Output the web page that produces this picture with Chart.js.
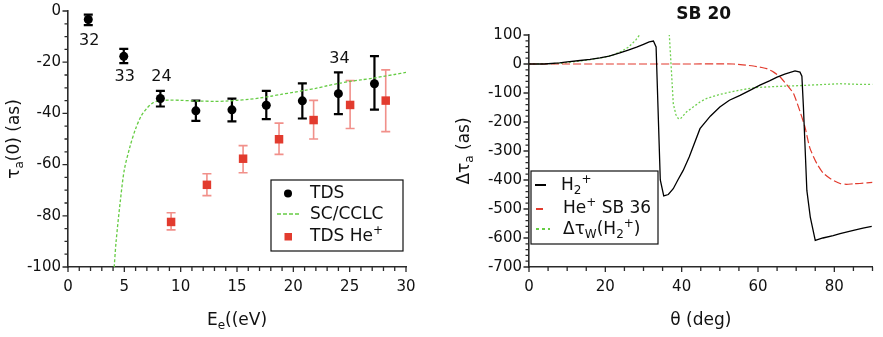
<!DOCTYPE html>
<html>
<head>
<meta charset="utf-8">
<script src="https://cdn.jsdelivr.net/npm/chart.js@4.4.0/dist/chart.umd.min.js"></script>
<style>
  body { margin: 0; background: #fff; width: 883px; height: 337px; overflow: hidden; position: relative; }
  #leftBox { position: absolute; left: 0; top: 0; width: 440px; height: 337px; }
  #rightBox { position: absolute; left: 440px; top: 0; width: 443px; height: 337px; }
</style>
</head>
<body>
<div id="leftBox"><canvas id="leftChart"></canvas></div>
<div id="rightBox"><canvas id="rightChart"></canvas></div>
<script>
// ---- left panel: delays vs electron energy ----
const tdsEnergy = [1.8, 4.95, 8.2, 11.35, 14.55, 17.6, 20.8, 24.0, 27.2];
const tdsDelay  = [-3.3, -17.7, -34.2, -39.0, -38.6, -36.8, -35.1, -32.3, -28.4];
const tdsUpper  = [-1.4, -14.8, -31.2, -35.0, -34.2, -31.2, -28.3, -24.0, -17.6];
const tdsLower  = [-5.5, -20.4, -37.3, -42.9, -43.1, -42.2, -42.0, -40.3, -38.5];
const tdsTags   = ['32', '33', '24', '', '', '', '', '34', ''];
const tagBelow  = [true, true, false, false, false, false, false, false, false];

const heEnergy = [9.15, 12.33, 15.54, 18.73, 21.8, 25.04, 28.2];
const heDelay  = [-82.4, -67.9, -57.7, -50.1, -42.6, -36.7, -35.0];
const heUpper  = [-78.8, -63.6, -52.6, -43.8, -34.9, -27.2, -23.0];
const heLower  = [-85.5, -72.1, -63.2, -56.0, -50.0, -45.9, -47.1];

const ccEnergy = [4.1, 4.27, 4.65, 5.0, 5.5, 6.0, 6.5, 7.0, 7.5, 8.0, 9, 10, 11, 12, 13, 14, 15, 16, 17, 18, 19, 20, 21, 22, 23, 24, 25, 26, 27, 28, 29, 30];
const ccDelay  = [-100, -90, -74, -62, -53, -46, -41, -38, -36, -35.2, -34.8, -34.9, -35.1, -35.2, -35.3, -35.2, -34.9, -34.5, -34.0, -33.3, -32.5, -31.8, -31.0, -30.2, -29.2, -28.3, -27.5, -26.9, -26.3, -25.5, -24.8, -24.0];

// ---- right panel: SB 20 vs angle ----
const h2Angle = [0, 4, 8, 10, 13.4, 16, 18.6, 21, 23.8, 26, 28.2, 30, 31.5, 32.6, 33.3, 33.8, 34.4, 35.3, 36.5, 37.8, 39, 40.4, 42, 44.8, 47.5, 50, 52.5, 55.3, 58, 60.5, 63, 65, 67, 69.7, 71, 71.5, 71.9, 72.8, 73.7, 75, 77, 79.7, 81.5, 85, 87.5, 89.8];
const h2Delay = [0, 0, 4, 7, 12, 16, 21, 27, 38, 48, 58, 68, 76, 79, 59, -150, -400, -455, -450, -430, -400, -367, -320, -223, -180, -148, -125, -108, -90, -73, -58, -45, -35, -24, -28, -42, -148, -436, -528, -608, -600, -592, -585, -574, -566, -560];

const heSbAngle = [0, 20, 40, 53.5, 56, 58.8, 61, 62.3, 64.1, 65.8, 68, 69.3, 70.6, 72.3, 73.6, 75.4, 77, 78.9, 81.5, 83.2, 85, 86.7, 88.5, 90];
const heSbDelay = [0, 0, 0, 0, -3, -7, -12, -16, -28, -45, -79, -102, -148, -217, -290, -343, -375, -395, -412, -415, -413, -412, -410, -408];

const wignerAngle = [0, 8, 12, 16, 20, 22, 24.3, 26, 27, 28, 28.9, 29.5, 33, 36.5, 36.8, 37.3, 37.8, 38.5, 39.1, 39.6, 41.3, 44.8, 46.5, 50, 52.7, 56, 59.5, 65.8, 70, 75, 81.5, 86, 90];
const wignerDelay = [0, 2, 8, 15, 24, 31, 44, 58, 70, 83, 99, 115, null, 130, 93, -20, -137, -175, -188, -190, -165, -131, -119, -105, -97, -88, -81, -77, -75, -72, -68, -70, -70];

const FONT = '"DejaVu Sans", Verdana, sans-serif';
const AXIS = '#2a2a2a';

function pts(xs, ys) { return xs.map((x, i) => ({ x: x, y: ys[i] })); }

// rich text: parts = [[text, 'n' | 'sub' | 'sup'], ...]
function richWidth(ctx, parts, size) {
  let w = 0;
  parts.forEach(p => {
    ctx.font = (p[1] === 'n' ? size : Math.round(size * 0.7)) + 'px ' + FONT;
    w += ctx.measureText(p[0]).width;
  });
  return w;
}
function drawRich(ctx, parts, x, y, size, align) {
  const w = richWidth(ctx, parts, size);
  let cx = align === 'center' ? x - w / 2 : x;
  ctx.textBaseline = 'middle';
  ctx.textAlign = 'left';
  ctx.fillStyle = '#111';
  parts.forEach(p => {
    const small = p[1] !== 'n';
    ctx.font = (small ? Math.round(size * 0.7) : size) + 'px ' + FONT;
    const dy = p[1] === 'sub' ? size * 0.3 : p[1] === 'sup' ? -size * 0.35 : 0;
    ctx.fillText(p[0], cx, y + dy);
    cx += ctx.measureText(p[0]).width;
  });
}

// minor + major tick marks drawn along the axes
function drawTicks(chart, xStep, yStep, xMajor, yMajor) {
  const { ctx, chartArea: a, scales: { x, y } } = chart;
  ctx.save();
  ctx.strokeStyle = AXIS;
  ctx.lineWidth = 1.3;
  ctx.beginPath();
  for (let v = x.min; v <= x.max + 1e-6; v += xStep) {
    const px = x.getPixelForValue(v);
    const len = Math.abs(v / xMajor - Math.round(v / xMajor)) < 1e-6 ? 5 : 4;
    ctx.moveTo(px, a.bottom); ctx.lineTo(px, a.bottom + len);
  }
  for (let v = y.min; v <= y.max + 1e-6; v += yStep) {
    const py = y.getPixelForValue(v);
    const len = Math.abs(v / yMajor - Math.round(v / yMajor)) < 1e-6 ? 5.5 : 3.5;
    ctx.moveTo(a.left, py); ctx.lineTo(a.left - len, py);
  }
  ctx.stroke();
  ctx.restore();
}

const leftDecor = {
  id: 'leftDecor',
  beforeDatasetsDraw(chart) {
    const { ctx, scales: { x, y } } = chart;
    ctx.save();
    // He+ error bars (light red)
    ctx.strokeStyle = 'rgba(232, 70, 60, 0.6)';
    ctx.lineWidth = 1.6;
    heEnergy.forEach((e, i) => {
      const px = x.getPixelForValue(e);
      const t = y.getPixelForValue(heUpper[i]), b = y.getPixelForValue(heLower[i]);
      ctx.beginPath();
      ctx.moveTo(px, t); ctx.lineTo(px, b);
      ctx.moveTo(px - 4.5, t); ctx.lineTo(px + 4.5, t);
      ctx.moveTo(px - 4.5, b); ctx.lineTo(px + 4.5, b);
      ctx.stroke();
    });
    // TDS error bars (black)
    ctx.strokeStyle = '#000';
    ctx.lineWidth = 2.2;
    tdsEnergy.forEach((e, i) => {
      const px = x.getPixelForValue(e);
      const t = y.getPixelForValue(tdsUpper[i]), b = y.getPixelForValue(tdsLower[i]);
      ctx.beginPath();
      ctx.moveTo(px, t); ctx.lineTo(px, b);
      ctx.moveTo(px - 4.5, t); ctx.lineTo(px + 4.5, t);
      ctx.moveTo(px - 4.5, b); ctx.lineTo(px + 4.5, b);
      ctx.stroke();
    });
    ctx.restore();
  },
  afterDraw(chart) {
    const { ctx, chartArea: a, scales: { x, y } } = chart;
    drawTicks(chart, 1, 5, 5, 20);
    ctx.save();
    // harmonic tags
    ctx.fillStyle = '#111';
    ctx.font = '16px ' + FONT;
    ctx.textAlign = 'center';
    ctx.textBaseline = 'middle';
    tdsTags.forEach((t, i) => {
      if (!t) return;
      const px = x.getPixelForValue(tdsEnergy[i]);
      const py = tagBelow[i] ? y.getPixelForValue(tdsDelay[i]) + 21 : y.getPixelForValue(tdsUpper[i]) - 14;
      ctx.fillText(t, px + 1, py);
    });
    // axis titles
    drawRich(ctx, [['E', 'n'], ['e', 'sub'], ['((eV)', 'n']], (a.left + a.right) / 2, 321, 17, 'center');
    ctx.save();
    ctx.translate(15, (a.top + a.bottom) / 2);
    ctx.rotate(-Math.PI / 2);
    drawRich(ctx, [['\u03c4', 'n'], ['a', 'sub'], ['(0) (as)', 'n']], 0, 0, 17, 'center');
    ctx.restore();
    // legend
    ctx.fillStyle = '#fff';
    ctx.fillRect(271, 180, 132, 71);
    ctx.strokeStyle = '#111';
    ctx.lineWidth = 1.2;
    ctx.strokeRect(271, 180, 132, 71);
    ctx.fillStyle = '#000';
    ctx.beginPath(); ctx.arc(288, 193.5, 4, 0, Math.PI * 2); ctx.fill();
    ctx.strokeStyle = '#66cc44';
    ctx.lineWidth = 1.6;
    ctx.setLineDash([4, 2]);
    ctx.beginPath(); ctx.moveTo(277, 214); ctx.lineTo(300, 214); ctx.stroke();
    ctx.setLineDash([]);
    ctx.fillStyle = '#e23b2e';
    ctx.fillRect(284.5, 233, 7.5, 7.5);
    drawRich(ctx, [['TDS', 'n']], 310, 194, 17, 'left');
    drawRich(ctx, [['SC/CCLC', 'n']], 310, 215, 17, 'left');
    drawRich(ctx, [['TDS He', 'n'], ['+', 'sup']], 310, 237, 17, 'left');
    ctx.restore();
  }
};

const rightDecor = {
  id: 'rightDecor',
  afterDraw(chart) {
    const { ctx, chartArea: a } = chart;
    drawTicks(chart, 5, 20, 20, 100);
    ctx.save();
    ctx.fillStyle = '#111';
    ctx.font = 'bold 17px ' + FONT;
    ctx.textAlign = 'center';
    ctx.textBaseline = 'middle';
    ctx.fillText('SB 20', (a.left + a.right) / 2 + 3, 15);
    drawRich(ctx, [['\u03b8 (deg)', 'n']], (a.left + a.right) / 2, 321, 17, 'center');
    ctx.save();
    ctx.translate(25, (a.top + a.bottom) / 2);
    ctx.rotate(-Math.PI / 2);
    drawRich(ctx, [['\u0394\u03c4', 'n'], ['a', 'sub'], [' (as)', 'n']], 0, 0, 17, 'center');
    ctx.restore();
    // legend
    ctx.fillStyle = '#fff';
    ctx.fillRect(91, 171, 127, 73);
    ctx.strokeStyle = '#111';
    ctx.lineWidth = 1.2;
    ctx.strokeRect(91, 171, 127, 73);
    ctx.lineWidth = 2;
    ctx.strokeStyle = '#000';
    ctx.beginPath(); ctx.moveTo(95, 185); ctx.lineTo(106, 185); ctx.stroke();
    ctx.strokeStyle = '#e23b2e';
    ctx.beginPath(); ctx.moveTo(96, 209); ctx.lineTo(103, 209); ctx.stroke();
    ctx.strokeStyle = '#66cc44';
    ctx.setLineDash([3, 3]);
    ctx.beginPath(); ctx.moveTo(96, 229); ctx.lineTo(110, 229); ctx.stroke();
    ctx.setLineDash([]);
    drawRich(ctx, [['H', 'n'], ['2', 'sub'], ['+', 'sup']], 121, 186, 17, 'left');
    drawRich(ctx, [['He', 'n'], ['+', 'sup'], [' SB 36', 'n']], 123, 209, 17, 'left');
    drawRich(ctx, [['\u0394\u03c4', 'n'], ['W', 'sub'], ['(H', 'n'], ['2', 'sub'], ['+', 'sup'], [')', 'n']], 123, 230, 17, 'left');
    ctx.restore();
  }
};

function axes(xMin, xMax, xStep, yMin, yMax, yStep, yWidth, fontSize, xLabelMax) {
  const tickFont = { family: FONT, size: fontSize };
  return {
    x: {
      type: 'linear', min: xMin, max: xMax,
      grid: { display: false, drawTicks: true, tickLength: 5 },
      border: { display: true, color: AXIS, width: 1.6 },
      ticks: {
        stepSize: xStep, color: '#111', font: tickFont, padding: 6, maxRotation: 0,
        callback: v => (v <= xLabelMax ? v : '')
      },
      afterFit: s => { s.height = 70; }
    },
    y: {
      type: 'linear', min: yMin, max: yMax,
      grid: { display: false, drawTicks: true, tickLength: 5 },
      border: { display: true, color: AXIS, width: 1.6 },
      ticks: { stepSize: yStep, color: '#111', font: tickFont, padding: 2 },
      afterFit: s => { s.width = yWidth; }
    }
  };
}

new Chart(document.getElementById('leftChart'), {
  type: 'scatter',
  data: {
    datasets: [
      {
        label: 'SC/CCLC', data: pts(ccEnergy, ccDelay), showLine: true,
        borderColor: '#66cc44', borderWidth: 1.3, borderDash: [3, 2],
        pointRadius: 0, tension: 0.3, order: 3
      },
      {
        label: 'TDS He+', data: pts(heEnergy, heDelay), pointStyle: 'rect',
        pointRadius: 6, backgroundColor: '#e23b2e', borderColor: '#e23b2e', borderWidth: 0, order: 2
      },
      {
        label: 'TDS', data: pts(tdsEnergy, tdsDelay), pointStyle: 'circle',
        pointRadius: 4.5, backgroundColor: '#000', borderColor: '#000', borderWidth: 0, order: 1
      }
    ]
  },
  options: {
    responsive: true,
    maintainAspectRatio: false,
    animation: false,
    layout: { padding: { left: 0, top: 9, right: 34, bottom: 0 } },
    plugins: { legend: { display: false }, tooltip: { enabled: false } },
    scales: axes(0, 30, 5, -100, 0, 20, 68, 15, 30)
  },
  plugins: [leftDecor]
});

new Chart(document.getElementById('rightChart'), {
  type: 'scatter',
  data: {
    datasets: [
      {
        label: 'H2+', data: pts(h2Angle, h2Delay), showLine: true,
        borderColor: '#000', borderWidth: 1.3, pointRadius: 0, order: 1
      },
      {
        label: 'He+ SB 36', data: pts(heSbAngle, heSbDelay), showLine: true,
        borderColor: '#e23b2e', borderWidth: 1.2, borderDash: [8, 3], pointRadius: 0, tension: 0.2, order: 2
      },
      {
        label: 'Wigner H2+', data: pts(wignerAngle, wignerDelay), showLine: true, spanGaps: false,
        borderColor: '#70d050', borderWidth: 1.3, borderDash: [2, 2], pointRadius: 0, order: 3
      }
    ]
  },
  options: {
    responsive: true,
    maintainAspectRatio: false,
    animation: false,
    layout: { padding: { left: 0, top: 35, right: 10.5, bottom: 0 } },
    plugins: { legend: { display: false }, tooltip: { enabled: false } },
    scales: axes(0, 90, 20, -700, 100, 100, 89, 15, 80)
  },
  plugins: [rightDecor]
});
</script>
</body>
</html>
